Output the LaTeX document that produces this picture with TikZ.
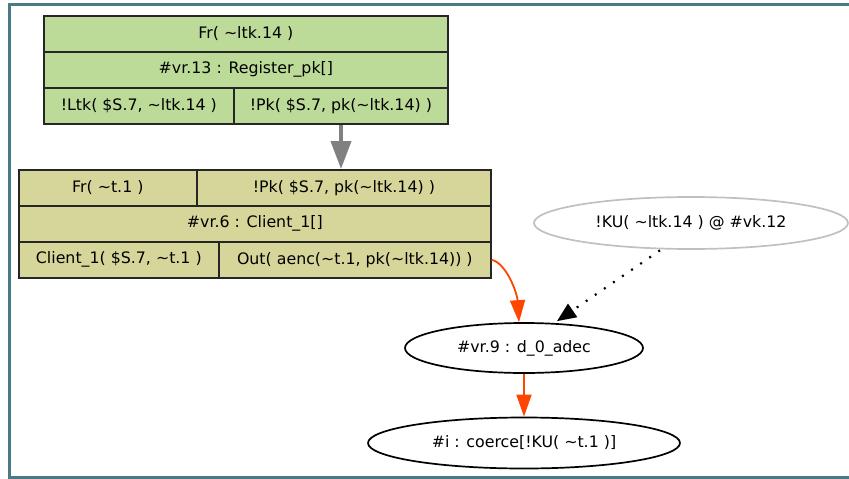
\documentclass[tikz,border=0pt]{standalone}
\usepackage{fontspec}
\setmainfont{DejaVu Sans}
\usetikzlibrary{shapes.geometric,arrows.meta}

\definecolor{framecol}{RGB}{74,123,133}
\definecolor{rulegreen}{RGB}{188,218,152}
\definecolor{rulekhaki}{RGB}{214,214,154}
\definecolor{edgegrey}{RGB}{128,128,128}
\definecolor{orangered}{RGB}{255,69,0}
\definecolor{kugrey}{RGB}{192,192,192}

\tikzset{
  cell/.style={draw=black!85, line width=1.7pt, inner sep=0pt, anchor=north west,
    font=\fontsize{15.8}{18}\selectfont},
  greencell/.style={cell, fill=rulegreen},
  khakicell/.style={cell, fill=rulekhaki},
  oval/.style={ellipse, draw=black, line width=1.7pt, inner sep=0pt,
    font=\fontsize{15.8}{18}\selectfont},
  ruleedge/.style={draw=edgegrey, line width=4pt,
    -{Triangle[length=28pt,width=20pt]}},
  msgedge/.style={draw=orangered, line width=1.8pt,
    -{Triangle[length=22pt,width=15pt]}},
  kuedge/.style={draw=black, line width=2.2pt, dash pattern=on 2pt off 9pt,
    -{Triangle[length=19pt,width=16pt]}},
}

\begin{document}
\begin{tikzpicture}[x=1pt,y=-1pt]
\useasboundingbox (0,0) rectangle (849,479);

% outer cluster frame
\draw[framecol, line width=3pt] (9.5,4.5) rectangle (870,477);

% rule Register_pk
\node[greencell, minimum width=404pt, minimum height=36pt] (rA1) at (43,15) {Fr( \textasciitilde ltk.14 )};
\node[greencell, minimum width=404pt, minimum height=36pt] (rA2) at (43,51) {\#vr.13 : Register\_pk[]};
\node[greencell, minimum width=190pt, minimum height=36pt] (rA3) at (43,87) {!Ltk( \$S.7, \textasciitilde ltk.14 )};
\node[greencell, minimum width=214pt, minimum height=36pt] (rA4) at (233,87) {!Pk( \$S.7, pk(\textasciitilde ltk.14) )};

% rule Client_1
\node[khakicell, minimum width=178pt, minimum height=36pt] (rB1) at (18,169) {Fr( \textasciitilde t.1 )};
\node[khakicell, minimum width=294pt, minimum height=36pt] (rB2) at (196,169) {!Pk( \$S.7, pk(\textasciitilde ltk.14) )};
\node[khakicell, minimum width=472pt, minimum height=36pt] (rB3) at (18,205) {\#vr.6 : Client\_1[]};
\node[khakicell, minimum width=200pt, minimum height=36pt] (rB4) at (18,241) {Client\_1( \$S.7, \textasciitilde t.1 )};
\node[khakicell, minimum width=272pt, minimum height=36pt] (rB5) at (218,241) {Out( aenc(\textasciitilde t.1, pk(\textasciitilde ltk.14)) )};

% ellipses
\node[oval, draw=kugrey, minimum width=314pt, minimum height=52pt] (ku) at (691,223) {!KU( \textasciitilde ltk.14 ) @ \#vk.12};
\node[oval, minimum width=238pt, minimum height=50pt] (dec) at (524,348) {\#vr.9 : d\_0\_adec};
\node[oval, minimum width=312pt, minimum height=51pt] (coerce) at (524,443) {\#i : coerce[!KU( \textasciitilde t.1 )]};

% connectors
\draw[ruleedge] (rA4.south -| 341,0) -- (rB2.north -| 341,0);
\draw[msgedge] (rB5.east) .. controls (506,263) and (517,292) .. ([xshift=-5pt]dec.north);
\draw[kuedge] ([xshift=-31pt,yshift=-0.5pt]ku.south) -- ([xshift=33pt,yshift=1pt]dec.north);
\draw[msgedge] (dec.south) -- (coerce.north);
\end{tikzpicture}
\end{document}
